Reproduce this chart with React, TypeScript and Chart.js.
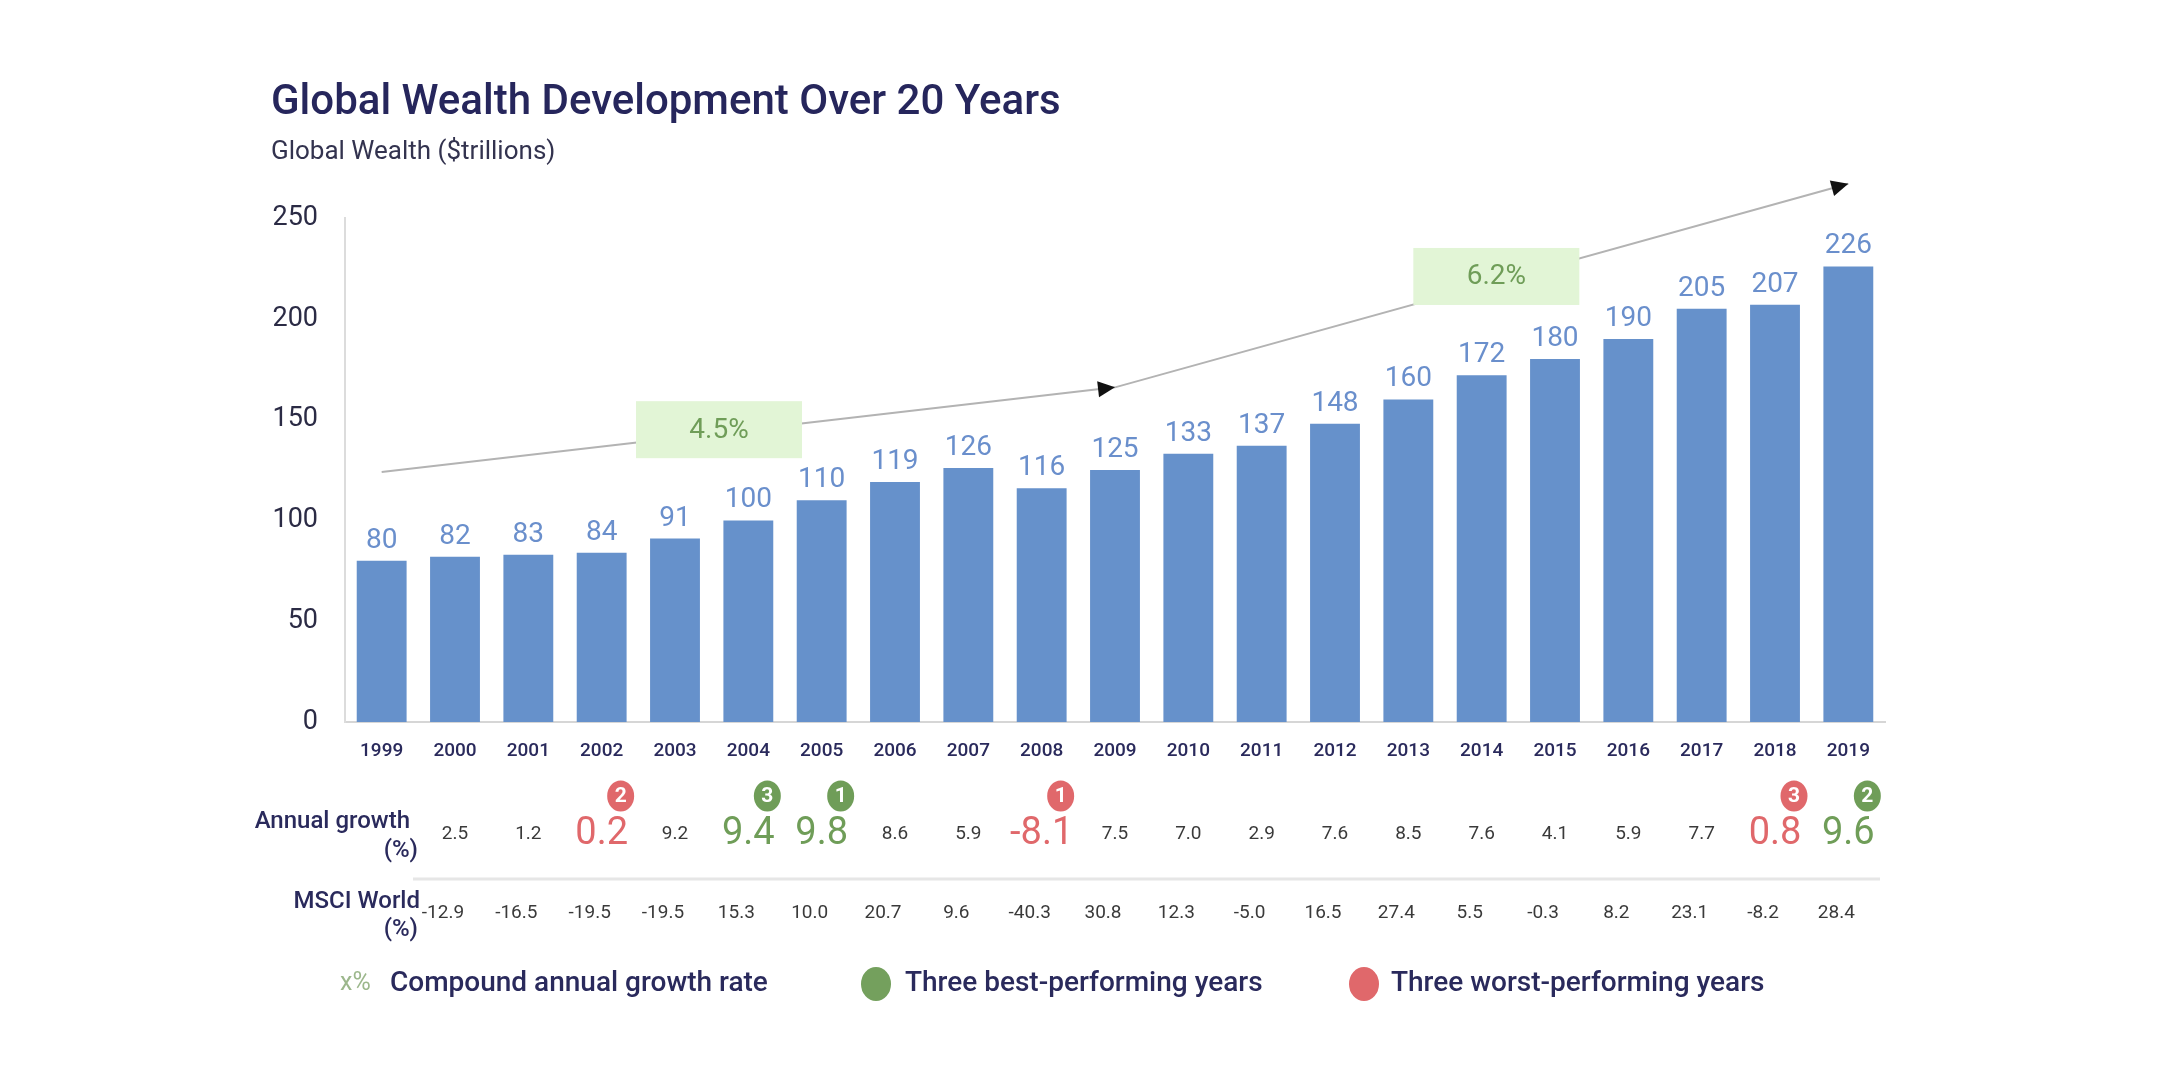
import React, { useEffect, useRef } from 'react';
import { Chart, registerables } from 'chart.js';

Chart.register(...registerables);

const years = ['1999', '2000', '2001', '2002', '2003', '2004', '2005', '2006', '2007', '2008', '2009', '2010', '2011', '2012', '2013', '2014', '2015', '2016', '2017', '2018', '2019'];
const wealth = [80, 82, 83, 84, 91, 100, 110, 119, 126, 116, 125, 133, 137, 148, 160, 172, 180, 190, 205, 207, 226];
const yTicks = [0, 50, 100, 150, 200, 250];

// Annual growth (%) and MSCI World (%) for 2000..2019
const growthYears = ['2000', '2001', '2002', '2003', '2004', '2005', '2006', '2007', '2008', '2009', '2010', '2011', '2012', '2013', '2014', '2015', '2016', '2017', '2018', '2019'];
const growth = [2.5, 1.2, 0.2, 9.2, 9.4, 9.8, 8.6, 5.9, -8.1, 7.5, 7.0, 2.9, 7.6, 8.5, 7.6, 4.1, 5.9, 7.7, 0.8, 9.6];
const msci = [-12.9, -16.5, -19.5, -19.5, 15.3, 10.0, 20.7, 9.6, -40.3, 30.8, 12.3, -5.0, 16.5, 27.4, 5.5, -0.3, 8.2, 23.1, -8.2, 28.4];

// ranked: index 0 = rank 1
const bestYears = ['2005', '2019', '2004'];
const worstYears = ['2008', '2002', '2018'];

// compound growth trend (arrow) in data coordinates
const trendYears = ['1999', '2009', '2019'];
const trendValues = [124, 166, 267];
const cagrLabels = ['4.5%', '6.2%'];
const cagrAtIndex = [4.6, 15.2];
const cagrAtValue = [145, 221];

const legendItems = ['Compound annual growth rate', 'Three best-performing years', 'Three worst-performing years'];

const FONT = 'Roboto, "Noto Sans", sans-serif';
const NAVY = '#2a2a5c';
const BAR = '#6691cb';
const LABEL_BLUE = '#6a8fcc';
const GREEN = '#6f9d58';
const RED = '#e0686b';
const BOX = '#e2f5d6';

const trendData = years.map((y) => {
  const k = trendYears.indexOf(y);
  return k >= 0 ? trendValues[k] : null;
});

const overlay = {
  id: 'overlay',
  afterDatasetsDraw(chart: any) {
    const ctx = chart.ctx;
    const xs = chart.scales.x;
    const ys = chart.scales.y;
    ctx.save();
    // value labels above bars
    const barMeta = chart.getDatasetMeta(0);
    ctx.fillStyle = LABEL_BLUE;
    ctx.font = `400 28px ${FONT}`;
    ctx.textAlign = 'center';
    ctx.textBaseline = 'bottom';
    barMeta.data.forEach((bar: any, i: number) => {
      ctx.fillText(String(wealth[i]), bar.x, bar.y - 6);
    });

    // arrowheads
    const lineMeta = chart.getDatasetMeta(1);
    const idx = trendYears.map((y) => years.indexOf(y));
    for (let k = 1; k < idx.length; k++) {
      const p = lineMeta.data[idx[k]];
      const q = lineMeta.data[idx[k - 1]];
      const a = Math.atan2(p.y - q.y, p.x - q.x);
      const L = 17, W = 8;
      ctx.fillStyle = '#111';
      ctx.beginPath();
      ctx.moveTo(p.x, p.y);
      ctx.lineTo(p.x - L * Math.cos(a) + W * Math.sin(a), p.y - L * Math.sin(a) - W * Math.cos(a));
      ctx.lineTo(p.x - L * Math.cos(a) - W * Math.sin(a), p.y - L * Math.sin(a) + W * Math.cos(a));
      ctx.closePath();
      ctx.fill();
    }

    // CAGR boxes
    cagrLabels.forEach((t, k) => {
      const cx = xs.getPixelForValue(cagrAtIndex[k]);
      const cy = ys.getPixelForValue(cagrAtValue[k]);
      const w = 166, h = 57;
      ctx.fillStyle = BOX;
      ctx.fillRect(cx - w / 2, cy - h / 2, w, h);
      ctx.fillStyle = GREEN;
      ctx.font = `400 28px ${FONT}`;
      ctx.textAlign = 'center';
      ctx.textBaseline = 'middle';
      ctx.fillText(t, cx, cy + 1);
    });
    ctx.restore();
  },
  afterDraw(chart: any) {
    const ctx = chart.ctx;
    const xs = chart.scales.x;
    ctx.save();
    // title & subtitle
    ctx.textAlign = 'left';
    ctx.textBaseline = 'middle';
    ctx.fillStyle = '#26265c';
    ctx.font = `500 42px ${FONT}`;
    ctx.fillText('Global Wealth Development Over 20 Years', 271, 103);
    ctx.fillStyle = '#33334f';
    ctx.font = `400 26px ${FONT}`;
    ctx.fillText('Global Wealth ($trillions)', 271, 152);

    // row labels
    ctx.fillStyle = NAVY;
    ctx.font = `500 24px ${FONT}`;
    ctx.textAlign = 'right';
    ctx.fillText('Annual growth', 410, 822);
    ctx.fillText('(%)', 418, 851);
    ctx.fillText('MSCI World', 420, 902);
    ctx.fillText('(%)', 418, 930);

    // annual growth values
    ctx.textAlign = 'center';
    growthYears.forEach((yr, i) => {
      const x = xs.getPixelForValue(years.indexOf(yr));
      const b = bestYears.indexOf(yr);
      const w = worstYears.indexOf(yr);
      const txt = growth[i].toFixed(1);
      if (b >= 0 || w >= 0) {
        const col = b >= 0 ? GREEN : RED;
        ctx.fillStyle = col;
        ctx.font = `400 38px ${FONT}`;
        ctx.fillText(txt, x, 834);
        // badge
        const bx = x + 19, by = 796;
        ctx.beginPath();
        ctx.ellipse(bx, by, 13.5, 15.5, 0, 0, Math.PI * 2);
        ctx.fill();
        ctx.fillStyle = '#fff';
        ctx.font = `700 21px ${FONT}`;
        ctx.fillText(String((b >= 0 ? b : w) + 1), bx, by + 1);
      } else {
        ctx.fillStyle = '#3a3a3a';
        ctx.font = `400 19px ${FONT}`;
        ctx.fillText(txt, x, 834);
      }
    });

    // separator
    ctx.strokeStyle = '#e6e6e6';
    ctx.lineWidth = 3;
    ctx.beginPath();
    ctx.moveTo(413, 879);
    ctx.lineTo(1880, 879);
    ctx.stroke();

    // MSCI values
    ctx.fillStyle = '#3a3a3a';
    ctx.font = `400 19px ${FONT}`;
    growthYears.forEach((yr, i) => {
      const x = xs.getPixelForValue(years.indexOf(yr)) - 12;
      ctx.fillText(msci[i].toFixed(1), x, 913);
    });

    // legend
    const ly = 984;
    ctx.textAlign = 'left';
    ctx.fillStyle = '#9cb78c';
    ctx.font = `400 25px ${FONT}`;
    ctx.fillText('x%', 340, ly);
    ctx.fillStyle = NAVY;
    ctx.font = `500 28px ${FONT}`;
    ctx.fillText(legendItems[0], 390, ly);
    ctx.fillStyle = '#74a05d';
    ctx.beginPath();
    ctx.ellipse(876, ly, 15, 17, 0, 0, Math.PI * 2);
    ctx.fill();
    ctx.fillStyle = NAVY;
    ctx.fillText(legendItems[1], 905, ly);
    ctx.fillStyle = RED;
    ctx.beginPath();
    ctx.ellipse(1364, ly, 15, 17, 0, 0, Math.PI * 2);
    ctx.fill();
    ctx.fillStyle = NAVY;
    ctx.fillText(legendItems[2], 1391, ly);
    ctx.restore();
  },
};

export default function App() {
  const ref = useRef<HTMLCanvasElement>(null);
  useEffect(() => {
    const chart = new Chart(ref.current as HTMLCanvasElement, {
      type: 'bar',
      data: {
        labels: years,
        datasets: [
          {
            type: 'bar',
            data: wealth,
            backgroundColor: BAR,
            borderWidth: 0,
            categoryPercentage: 1,
            barPercentage: 0.68,
            order: 2,
          } as any,
          {
            type: 'line',
            data: trendData,
            spanGaps: true,
            borderColor: '#b3b3b3',
            borderWidth: 2,
            pointRadius: 0,
            fill: false,
            clip: false,
            order: 1,
          } as any,
        ],
      },
      options: {
        responsive: false,
        animation: false,
        layout: { padding: { left: 245, right: 275, top: 218, bottom: 0 } },
        plugins: {
          legend: { display: false },
          title: { display: false },
          tooltip: { enabled: false },
        },
        scales: {
          x: {
            offset: true,
            grid: { display: false, drawTicks: false },
            border: { display: true, color: '#d6d6d6', width: 2 },
            ticks: {
              color: NAVY,
              font: { family: FONT, size: 19, weight: '500' },
              padding: 18,
              maxRotation: 0,
              autoSkip: false,
            },
            afterFit: (s: any) => { s.height = 358; },
          },
          y: {
            min: 0,
            max: 250,
            afterBuildTicks: (s: any) => { s.ticks = yTicks.map((v) => ({ value: v })); },
            grid: { display: false, drawTicks: false },
            border: { display: true, color: '#dcdcdc', width: 2 },
            ticks: {
              color: '#2b2b45',
              font: { family: FONT, size: 27 },
              padding: 27,
            },
            afterFit: (s: any) => { s.width = 100; },
          },
        },
      },
      plugins: [overlay],
    });
    return () => chart.destroy();
  }, []);
  return (
    <div style={{ position: 'fixed', left: 0, top: 0, width: 2160, height: 1080, background: '#fff' }}>
      <canvas ref={ref} width={2160} height={1080} style={{ width: 2160, height: 1080, display: 'block' }} />
    </div>
  );
}
